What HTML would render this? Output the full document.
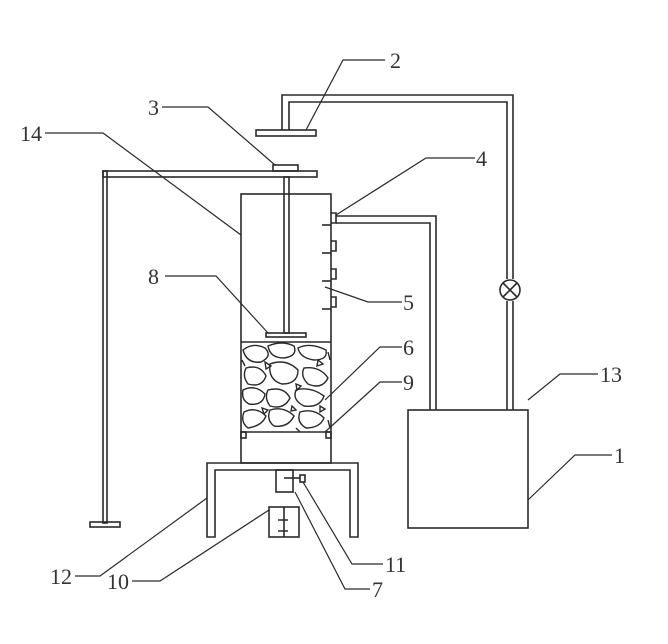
<!DOCTYPE html>
<html><head><style>body{margin:0;background:#fff}svg{display:block}text{font-family:"Liberation Serif",serif;font-size:22px;fill:#333}</style></head><body>
<svg width="668" height="644" viewBox="0 0 668 644" fill="none" stroke="#2a2a2a" stroke-width="1.6" style="position:absolute;left:0;top:0">
<rect x="103" y="171" width="4" height="352"/>
<rect x="90" y="522" width="30" height="5"/>
<rect x="103" y="171" width="214" height="6"/>
<rect x="273" y="165" width="25" height="6"/>
<rect x="284" y="177" width="5" height="156"/>
<rect x="266" y="333" width="40" height="4"/>
<rect x="241" y="194" width="90" height="269"/>
<line x1="241" y1="342" x2="331" y2="342"/>
<line x1="241" y1="432" x2="331" y2="432"/>
<rect x="241" y="432" width="5" height="6"/><rect x="326" y="432" width="5" height="6"/>
<g stroke-width="1.4">
<path d="M243 350 q10-8 22-2 q8 8-4 14 q-14 2-18-12z M268 346 q14-6 26 0 q4 10-10 12 q-14 0-16-12z M298 348 q12-6 28 2 q2 10-12 10 q-14-2-16-12z M246 368 q14-4 20 8 q-4 12-18 8 q-6-8-2-16z M270 364 q16-6 28 6 q0 14-16 14 q-14-4-12-20z M304 368 q16-2 24 10 q-6 12-20 6 q-8-8-4-16z M243 390 q12-6 22 4 q-2 12-16 10 q-8-4-6-14z M268 390 q16-4 22 8 q-6 12-20 8 q-6-8-2-16z M296 390 q14-4 28 6 q-4 12-20 10 q-12-6-8-16z M244 412 q12-6 22 4 q-4 10-18 12 q-8-6-4-16z M270 410 q14-4 24 6 q-6 12-20 10 q-8-6-4-16z M300 412 q14-4 24 6 q-4 10-18 10 q-10-6-6-16z"/>
<path d="M265 362 l6 4 l-5 3z M296 384 l5 2 l-4 4z M318 360 l5 4 l-6 2z M262 408 l6 2 l-4 4z M320 406 l5 3 l-5 3z M292 406 l4 4 l-5 1z M242 360 l3 6 M328 352 l2 8 M328 420 l2 8 M296 428 l4 4"/>
</g>
<g>
<path d="M331 213 h5 v10 h-5 M331 241 h5 v10 h-5 M331 269 h5 v10 h-5 M331 297 h5 v10 h-5"/>
<line x1="322" y1="225" x2="331" y2="225"/><line x1="322" y1="253" x2="331" y2="253"/><line x1="322" y1="281" x2="331" y2="281"/><line x1="322" y1="309" x2="331" y2="309"/>
</g>
<path d="M336 216 H436 V410 M336 223 H430 V410"/>
<rect x="408" y="410" width="120" height="118"/>
<path d="M507 410 V301 M507 279 V102 H289 V130 M513 410 V301 M513 279 V95 H282 V130"/>
<circle cx="510" cy="290" r="10"/>
<path d="M503 283 L517 297 M517 283 L503 297"/>
<rect x="256" y="130" width="60" height="6"/>
<path d="M207 537 V463 H358 V537 H350 V470 H215 V537 Z"/>
<rect x="276" y="470" width="17" height="22"/>
<line x1="284" y1="478" x2="300" y2="478"/><rect x="300" y="475" width="5" height="7"/>
<rect x="269" y="507" width="30" height="30"/>
<path d="M284 507 V537 M278 520 H288 M278 531 H288"/>
<g stroke-width="1.2">
<path d="M385 60 H343 L306 130"/>
<path d="M162 107 H208 L275 165"/>
<path d="M45 133 H103 L241 235"/>
<path d="M475 158 H426 L336 215"/>
<path d="M165 276 H216 L268 333"/>
<path d="M402 302 H368 L325 287"/>
<path d="M402 347 H380 L325 400"/>
<path d="M402 382 H380 L325 432"/>
<path d="M598 374 H560 L528 400"/>
<path d="M612 455 H575 L528 500"/>
<path d="M75 576 H100 L207 498"/>
<path d="M383 564 H352 L303 482"/>
<path d="M132 581 H160 L269 510"/>
<path d="M370 589 H345 L295 492"/>
</g>
<g stroke="none" fill="#333">
<text x="390" y="68">2</text><text x="148" y="115">3</text><text x="20" y="141">14</text><text x="476" y="166">4</text>
<text x="148" y="284">8</text><text x="403" y="310">5</text><text x="403" y="355">6</text><text x="403" y="390">9</text>
<text x="600" y="382">13</text><text x="614" y="463">1</text><text x="50" y="584">12</text><text x="385" y="572">11</text>
<text x="107" y="589">10</text><text x="372" y="597">7</text>
</g>
</svg>
</body></html>
